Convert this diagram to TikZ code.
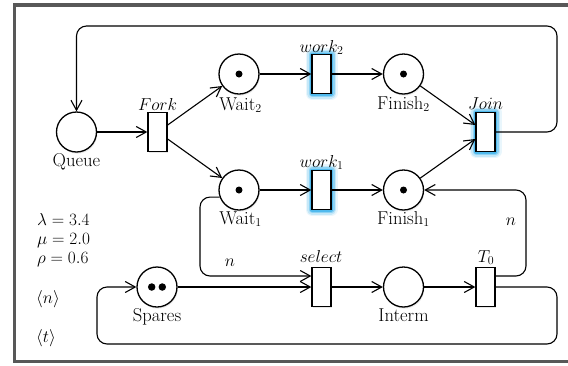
\documentclass[tikz,border=0pt]{standalone}
\usepackage{fontspec}
\usetikzlibrary{arrows.meta,calc,shadows}
\definecolor{framegray}{RGB}{88,88,88}
\definecolor{glowc}{RGB}{40,170,235}
\begin{document}
\begin{tikzpicture}[x=1pt,y=-1pt,
  font=\fontsize{18.6}{22}\selectfont,
  softshadow/.style={drop shadow={shadow xshift=0.8pt,shadow yshift=-1.6pt,opacity=0.18}},
  place/.style={circle,draw,line width=1.3pt,minimum size=40pt,inner sep=0pt,fill=white,softshadow},
  trans/.style={rectangle,draw,line width=1.3pt,minimum width=19pt,minimum height=39pt,inner sep=0pt,fill=white},
  plain/.style={trans,softshadow},
  glow/.style={trans,
    preaction={draw=glowc,line width=13pt,opacity=.10,line join=round},
    preaction={draw=glowc,line width=10pt,opacity=.18,line join=round},
    preaction={draw=glowc,line width=7pt,opacity=.35,line join=round},
    preaction={draw=glowc,line width=4pt,opacity=.6,line join=round}},
  token/.style={circle,fill=black,inner sep=0pt,minimum size=7pt},
  arc/.style={draw,line width=1.1pt,-{Straight Barb[length=10pt,width=11pt,line width=1.1pt]}},
  lbl/.style={inner sep=0pt,anchor=base}
]
\useasboundingbox (0,0) rectangle (568,365);
\clip (0,0) rectangle (568,365);
\fill[white] (0,0) rectangle (568,365);
\draw[framegray,line width=3.5pt] (14.5,5) rectangle (600,361.5);

% places
\node[place] (Queue)   at (76.5,132) {};
\node[place] (Wait2)   at (239,74) {};
\node[place] (Finish2) at (403.5,74) {};
\node[place] (Wait1)   at (239,190) {};
\node[place] (Finish1) at (403.5,190) {};
\node[place] (Spares)  at (157,287) {};
\node[place] (Interm)  at (403.5,287) {};

% transitions
\node[plain] (Fork)   at (157.5,132) {};
\node[glow]  (work2)  at (321.5,74) {};
\node[glow]  (Join)   at (485.5,132) {};
\node[glow]  (work1)  at (321.5,190) {};
\node[plain] (select) at (321.5,287) {};
\node[plain] (T0)     at (485.5,287) {};

% tokens
\node[token] (tokW2) at (Wait2) {};
\node[token] (tokF2) at (Finish2) {};
\node[token] (tokW1) at (Wait1) {};
\node[token] (tokF1) at (Finish1) {};
\node[token,minimum size=7.5pt] (tokS1) at ($(Spares)+(-5.3,0)$) {};
\node[token,minimum size=7.5pt] (tokS2) at ($(Spares)+(5.3,0)$) {};

% labels
\node[lbl] (lQueue)   at (76.5,166) {Queue};
\node[lbl] (lFork)    at (157.5,110) {$Fork$};
\node[lbl] (lWait2)   at (240.5,110) {Wait$_2$};
\node[lbl] (lwork2)   at (321.5,52) {$work_2$};
\node[lbl] (lFinish2) at (403.5,109) {Finish$_2$};
\node[lbl] (lJoin)    at (485.5,109) {$Join$};
\node[lbl] (lwork1)   at (321.5,167) {$work_1$};
\node[lbl] (lWait1)   at (240.5,224) {Wait$_1$};
\node[lbl] (lFinish1) at (403.5,224) {Finish$_1$};
\node[lbl] (lselect)  at (321,262) {$select$};
\node[lbl] (lT0)      at (486,262) {$T_0$};
\node[lbl] (lInterm)  at (403.5,321) {Interm};
\node[lbl] (lSpares)  at (157,321) {Spares};
\node[lbl] (ln1)      at (230,266) {$n$};
\node[lbl] (ln2)      at (511,225) {$n$};

% rates and legend
\node[lbl,anchor=base west] (lam) at (37,225) {$\lambda = 3.4$};
\node[lbl,anchor=base west] (mu)  at (37,244) {$\mu = 2.0$};
\node[lbl,anchor=base west] (rho) at (37,263) {$\rho = 0.6$};
\node[lbl,anchor=base west] (nn)  at (36,303) {$\langle n\rangle$};
\node[lbl,anchor=base west] (tt)  at (36,342) {$\langle t\rangle$};

% connection points on transitions
\coordinate (fk2) at ($(Fork.east)+(0,-7)$);
\coordinate (fk1) at ($(Fork.east)+(0,7)$);
\coordinate (jn2) at ($(Join.west)+(0,-7)$);
\coordinate (jn1) at ($(Join.west)+(0,7)$);
\coordinate (selIn) at ($(select.west)+(0,-11)$);
\coordinate (t0Out) at ($(T0.east)+(0,-11)$);
\coordinate (wBend) at (200,276);
\coordinate (fBend) at (526,276);
\coordinate (topR) at (557,26);
\coordinate (botR) at (557,344);
\coordinate (botL) at (97,287);

% arcs
\draw[arc] (Queue) -- (Fork);
\draw[arc] (fk2) -- (Wait2);
\draw[arc] (fk1) -- (Wait1);
\draw[arc] (Wait2) -- (work2);
\draw[arc] (work2) -- (Finish2);
\draw[arc] (Wait1) -- (work1);
\draw[arc] (work1) -- (Finish1);
\draw[arc] (Finish2) -- (jn2);
\draw[arc] (Finish1) -- (jn1);
\draw[arc,rounded corners=10pt] (Join.east) -| (topR) -| (Queue.north);
\draw[arc,rounded corners=10pt] (Wait1.200) -| (wBend) -- (selIn);
\draw[arc] (Spares) -- (select);
\draw[arc] (select) -- (Interm);
\draw[arc] (Interm) -- (T0);
\draw[arc,rounded corners=10pt] (t0Out) -- (fBend) |- (Finish1.east);
\draw[arc,rounded corners=10pt] (T0.east) -| (botR) -| (botL) -- (Spares.west);
\end{tikzpicture}
\end{document}
